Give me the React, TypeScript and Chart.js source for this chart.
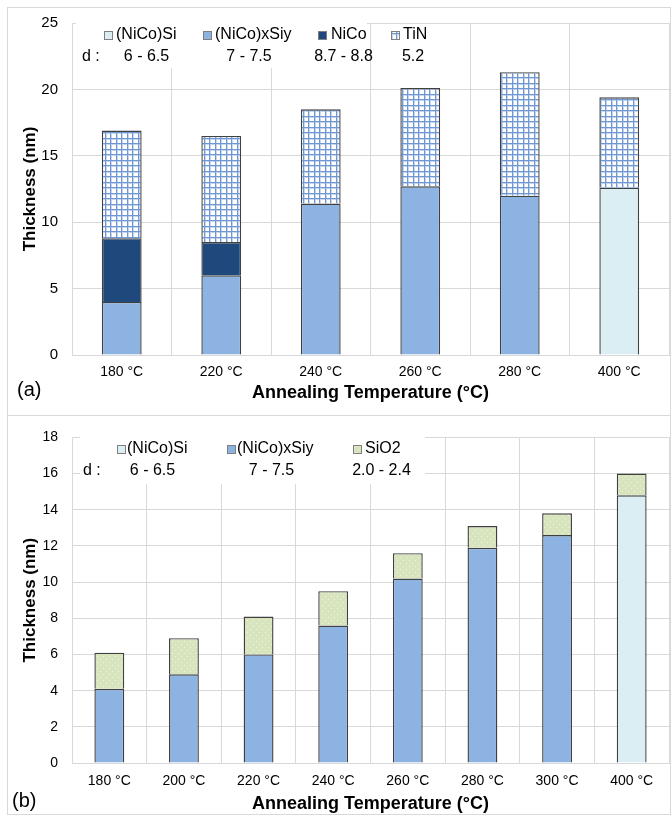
import React, { useEffect, useRef } from "react";
import { Chart, registerables } from "chart.js";

Chart.register(...registerables);

// ---------- data: panel (a) ----------
const topCategories = ["180 °C", "220 °C", "240 °C", "260 °C", "280 °C", "400 °C"];
const topNiCoSi = [null, null, null, null, null, 12.6];
const topNiCoxSiy = [4.0, 6.0, 11.4, 12.7, 12.0, null];
const topNiCo = [4.8, 2.5, null, null, null, null];
const topTiN = [8.1, 8.0, 7.1, 7.4, 9.3, 6.8];
const topSeriesNames = ["(NiCo)Si", "(NiCo)xSiy", "NiCo", "TiN"];
const topDValues = ["6 - 6.5", "7 - 7.5", "8.7 - 8.8", "5.2"];
const topYMax = 25;
const topYStep = 5;

// ---------- data: panel (b) ----------
const bottomCategories = ["180 °C", "200 °C", "220 °C", "240 °C", "260 °C", "280 °C", "300 °C", "400 °C"];
const bottomNiCoSi = [null, null, null, null, null, null, null, 14.8];
const bottomNiCoxSiy = [4.1, 4.9, 6.0, 7.6, 10.2, 11.9, 12.6, null];
const bottomSiO2 = [2.0, 2.0, 2.1, 1.9, 1.4, 1.2, 1.2, 1.2];
const bottomSeriesNames = ["(NiCo)Si", "(NiCo)xSiy", "SiO2"];
const bottomDValues = ["6 - 6.5", "7 - 7.5", "2.0 - 2.4"];
const bottomYMax = 18;
const bottomYStep = 2;

const xTitle = "Annealing Temperature (°C)";
const yTitle = "Thickness (nm)";
const dLabel = "d :";

const FONT = '"Liberation Sans", Arial, sans-serif';
const GRID = "#d9d9d9";

function makeGridPattern(): any {
  const c = document.createElement("canvas");
  c.width = 11;
  c.height = 11;
  const g = c.getContext("2d")!;
  g.fillStyle = "#ffffff";
  g.fillRect(0, 0, 11, 11);
  g.fillStyle = "#c6d6ee";
  g.fillRect(1, 0, 1, 11);
  g.fillRect(7, 0, 1, 11);
  g.fillRect(0, 1, 11, 1);
  g.fillRect(0, 7, 11, 1);
  g.fillStyle = "#6f98d2";
  g.fillRect(0, 0, 1, 11);
  g.fillRect(6, 0, 1, 11);
  g.fillRect(0, 0, 11, 1);
  g.fillRect(0, 6, 11, 1);
  return g.createPattern(c, "repeat");
}

function makeDotPattern(): any {
  const c = document.createElement("canvas");
  c.width = 6;
  c.height = 6;
  const g = c.getContext("2d")!;
  g.fillStyle = "#d7e4bd";
  g.fillRect(0, 0, 6, 6);
  g.fillStyle = "#eef4e2";
  g.fillRect(1, 1, 1, 1);
  g.fillRect(4, 4, 1, 1);
  return g.createPattern(c, "repeat");
}

function barDs(label: string, data: (number | null)[], bg: any) {
  return {
    label,
    data,
    backgroundColor: bg,
    borderColor: "#404040",
    borderWidth: (c: any) => (c.raw == null ? 0 : 1.4),
    borderSkipped: "start",
    barPercentage: 0.4,
    categoryPercentage: 1,
    stack: "s",
  };
}

type LegendCfg = {
  names: string[];
  dvals: string[];
  box: { x: number; y: number; w: number; h: number };
  row1: number;
  row2: number;
  markerX: number[];
  textX: number[];
  dX: number;
  dCenters: number[];
  tag: string;
  tagX: number;
  tagY: number;
};

function legendPlugin(cfg: LegendCfg) {
  return {
    id: "customLegend",
    afterDraw(chart: any) {
      const ctx = chart.ctx as CanvasRenderingContext2D;
      ctx.save();
      ctx.fillStyle = "#ffffff";
      ctx.fillRect(cfg.box.x, cfg.box.y, cfg.box.w, cfg.box.h);
      ctx.font = "16px " + FONT;
      ctx.textBaseline = "middle";
      cfg.names.forEach((name, i) => {
        const ds = chart.data.datasets[i];
        const mx = cfg.markerX[i];
        ctx.fillStyle = ds.backgroundColor;
        ctx.fillRect(mx, cfg.row1 - 4, 8, 8);
        ctx.strokeStyle = "#7f7f7f";
        ctx.lineWidth = 1;
        ctx.strokeRect(mx + 0.5, cfg.row1 - 3.5, 8, 8);
        ctx.fillStyle = "#000";
        ctx.textAlign = "left";
        ctx.fillText(name, cfg.textX[i], cfg.row1);
      });
      ctx.textAlign = "left";
      ctx.fillText(dLabel, cfg.dX, cfg.row2);
      ctx.textAlign = "center";
      cfg.dvals.forEach((v, i) => ctx.fillText(v, cfg.dCenters[i], cfg.row2));
      ctx.textAlign = "left";
      ctx.font = "20px " + FONT;
      ctx.fillText(cfg.tag, cfg.tagX, cfg.tagY);
      ctx.restore();
    },
  };
}

function makeConfig(o: {
  categories: string[];
  datasets: any[];
  yMax: number;
  yStep: number;
  padTop: number;
  xHeight: number;
  xTickPad: number;
  xTitlePadBottom: number;
  yTickSize: number;
  legend: LegendCfg;
}): any {
  return {
    type: "bar",
    data: { labels: o.categories, datasets: o.datasets },
    plugins: [legendPlugin(o.legend)],
    options: {
      responsive: false,
      animation: false,
      layout: { padding: { top: o.padTop, right: 2, left: 0, bottom: 0 } },
      plugins: { legend: { display: false }, tooltip: { enabled: false } },
      scales: {
        x: {
          stacked: true,
          grid: { color: GRID, drawTicks: false, offset: true, lineWidth: 1 },
          border: { color: GRID },
          ticks: { color: "#000", font: { family: FONT, size: 14 }, padding: o.xTickPad, maxRotation: 0 },
          title: {
            display: true,
            text: xTitle,
            color: "#000",
            font: { family: FONT, size: 18, weight: "bold" },
            padding: { top: 0, bottom: o.xTitlePadBottom },
          },
          afterFit: (s: any) => {
            s.height = o.xHeight;
          },
        },
        y: {
          stacked: true,
          min: 0,
          max: o.yMax,
          grid: { color: GRID, drawTicks: false, lineWidth: 1 },
          border: { color: GRID },
          ticks: { stepSize: o.yStep, color: "#000", font: { family: FONT, size: o.yTickSize }, padding: 14 },
          title: {
            display: true,
            text: yTitle,
            color: "#000",
            font: { family: FONT, size: 17, weight: "bold" },
            padding: { top: 20, bottom: 0 },
          },
          afterFit: (s: any) => {
            s.width = 72;
          },
        },
      },
    },
  };
}

export default function App() {
  const topRef = useRef<HTMLCanvasElement>(null);
  const botRef = useRef<HTMLCanvasElement>(null);

  useEffect(() => {
    const grid = makeGridPattern();
    const dots = makeDotPattern();

    const topChart = new Chart(
      topRef.current!,
      makeConfig({
        categories: topCategories,
        datasets: [
          barDs(topSeriesNames[0], topNiCoSi, "#dbeef4"),
          barDs(topSeriesNames[1], topNiCoxSiy, "#8db3e2"),
          barDs(topSeriesNames[2], topNiCo, "#1f497d"),
          barDs(topSeriesNames[3], topTiN, grid),
        ],
        yMax: topYMax,
        yStep: topYStep,
        padTop: 20,
        xHeight: 60,
        xTickPad: 9,
        xTitlePadBottom: 11,
        yTickSize: 15,
        legend: {
          names: topSeriesNames,
          dvals: topDValues,
          box: { x: 76, y: 22, w: 291, h: 46 },
          row1: 35,
          row2: 57,
          markerX: [104, 203, 318, 391],
          textX: [116, 215, 331, 403],
          dX: 82,
          dCenters: [146.5, 249, 343.5, 413],
          tag: "(a)",
          tagX: 17,
          tagY: 390,
        },
      })
    );

    const botChart = new Chart(
      botRef.current!,
      makeConfig({
        categories: bottomCategories,
        datasets: [
          barDs(bottomSeriesNames[0], bottomNiCoSi, "#dbeef4"),
          barDs(bottomSeriesNames[1], bottomNiCoxSiy, "#8db3e2"),
          barDs(bottomSeriesNames[2], bottomSiO2, dots),
        ],
        yMax: bottomYMax,
        yStep: bottomYStep,
        padTop: 14,
        xHeight: 52,
        xTickPad: 10,
        xTitlePadBottom: 0,
        yTickSize: 14,
        legend: {
          names: bottomSeriesNames,
          dvals: bottomDValues,
          box: { x: 80, y: 18, w: 345, h: 51 },
          row1: 34,
          row2: 56,
          markerX: [117, 227, 353],
          textX: [127, 237, 365],
          dX: 83,
          dCenters: [152.5, 271.5, 381.5],
          tag: "(b)",
          tagX: 12,
          tagY: 386,
        },
      })
    );

    return () => {
      topChart.destroy();
      botChart.destroy();
    };
  }, []);

  return (
    <div style={{ position: "absolute", left: 0, top: 0, width: 671, height: 815, background: "#fff", overflow: "hidden" }}>
      <canvas ref={topRef} width={671} height={415} style={{ position: "absolute", left: 0, top: 0 }} />
      <canvas ref={botRef} width={671} height={400} style={{ position: "absolute", left: 0, top: 415 }} />
      <div
        style={{
          position: "absolute",
          left: 7,
          top: 7,
          width: 664,
          height: 409,
          border: "1px solid #d9d9d9",
          boxSizing: "border-box",
          pointerEvents: "none",
        }}
      />
      <div
        style={{
          position: "absolute",
          left: 7,
          top: 415,
          width: 664,
          height: 400,
          border: "1px solid #d9d9d9",
          boxSizing: "border-box",
          pointerEvents: "none",
        }}
      />
    </div>
  );
}
